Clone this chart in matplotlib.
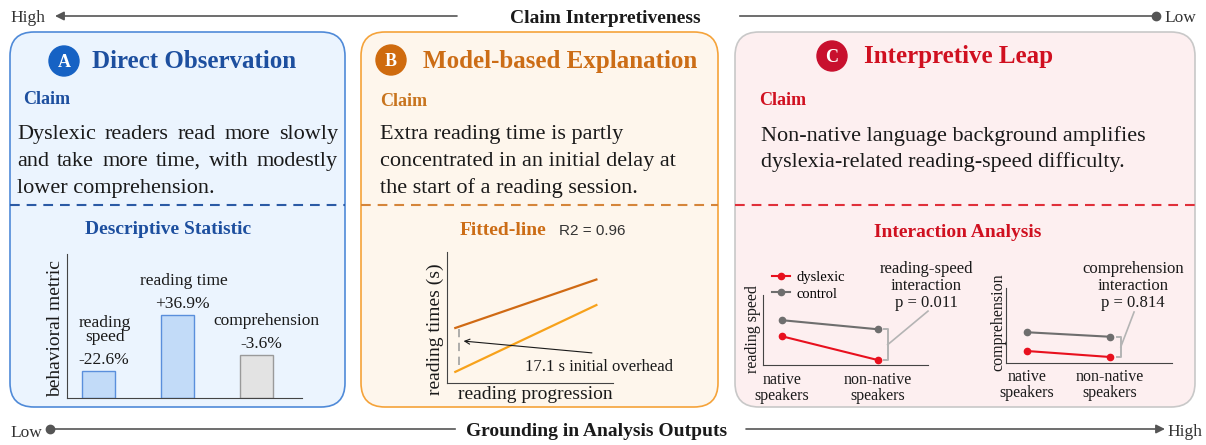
import matplotlib.pyplot as plt
from matplotlib.patches import FancyBboxPatch, Circle
import numpy as np

plt.rcParams['font.family'] = ['Liberation Serif', 'DejaVu Serif']
plt.rcParams['lines.scale_dashes'] = False

W, H = 1206, 445

# ---- data ----
bar_names = [['reading', 'speed'], ['reading time'], ['comprehension']]
bar_changes = ['-22.6%', '+36.9%', '-3.6%']
bar_heights = [27, 83, 43]            # schematic bar heights

fit_x = [0.05, 0.90]                  # reading progression (normalised)
fit_dyslexic = [0.42, 0.79]
fit_control = [0.085, 0.595]
overhead_s = 17.1
r2 = 0.96

groups = ['native\nspeakers', 'non-native\nspeakers']
speed_dyslexic = [0.41, 0.07]
speed_control = [0.64, 0.51]
comp_dyslexic = [0.16, 0.08]
comp_control = [0.41, 0.35]
p_speed = 0.011
p_comp = 0.814

claim_a = ['Dyslexic readers read more slowly',
           'and take more time, with modestly',
           'lower comprehension.']
claim_b = ['Extra reading time is partly',
           'concentrated in an initial delay at',
           'the start of a reading session.']
claim_c = ['Non-native language background amplifies',
           'dyslexia-related reading-speed difficulty.']

INK = '#1a1a1a'
AX = '#444444'
RED = '#e8101e'
GREY = '#6e6e6e'

fig = plt.figure(figsize=(W / 100, H / 100), dpi=100)
bg = fig.add_axes([0, 0, 1, 1])
bg.set_xlim(0, W)
bg.set_ylim(H, 0)
bg.axis('off')
renderer = fig.canvas.get_renderer()


def px_axes(x0, y0, x1, y1):
    ax = fig.add_axes([x0 / W, 1 - y1 / H, (x1 - x0) / W, (y1 - y0) / H])
    ax.set_facecolor('none')
    ax.spines[['top', 'right']].set_visible(False)
    ax.spines[['left', 'bottom']].set_color(AX)
    ax.set_yticks([])
    return ax


def panel(x0, x1, edge, face, dash):
    bg.add_patch(FancyBboxPatch((x0, 32), x1 - x0, 375,
                                boxstyle='round,pad=0,rounding_size=24',
                                fc=face, ec=edge, lw=1.2))
    bg.plot([x0, x1], [205, 205], color=dash, lw=1.5, dashes=(7, 5))


def header(cx, cy, letter, tx, ty, title, color, badge):
    bg.add_patch(Circle((cx, cy), 15, color=badge))
    bg.text(cx, cy + 6, letter, color='white', fontsize=13, fontweight='bold',
            ha='center', va='baseline')
    bg.text(tx, ty, title, color=color, fontsize=18, fontweight='bold', va='baseline')


def justify(x0, x1, y, line, **kw):
    words = line.split()
    ts = [bg.text(0, y, w, va='baseline', **kw) for w in words]
    widths = [t.get_window_extent(renderer).width for t in ts]
    gap = (x1 - x0 - sum(widths)) / (len(words) - 1)
    x = x0
    for t, w in zip(ts, widths):
        t.set_x(x)
        x += w + gap


# ---- top / bottom scales ----
arrow_kw = dict(arrowstyle='-|>', color='#555555', lw=1.2, mutation_scale=13,
                shrinkA=0, shrinkB=0)
bg.text(10, 22, 'High', fontsize=12.5, color='#333333', va='baseline')
bg.annotate('', xy=(55, 16), xytext=(457, 16), arrowprops=arrow_kw)
bg.text(605, 23, 'Claim Interpretiveness', fontsize=14, fontweight='bold',
        color=INK, ha='center', va='baseline')
bg.plot([740, 1156], [16, 16], color='#555555', lw=1.2)
bg.plot(1156, 16, 'o', color='#555555', ms=6)
bg.text(1164, 22, 'Low', fontsize=12.5, color='#333333', va='baseline')

bg.text(10, 437, 'Low', fontsize=12.5, color='#333333', va='baseline')
bg.plot([50, 455], [429, 429], color='#555555', lw=1.2)
bg.plot(50, 429, 'o', color='#555555', ms=6)
bg.text(597, 436, 'Grounding in Analysis Outputs', fontsize=14, fontweight='bold',
        color=INK, ha='center', va='baseline')
bg.annotate('', xy=(1165, 429), xytext=(746, 429), arrowprops=arrow_kw)
bg.text(1167, 436, 'High', fontsize=12.5, color='#333333', va='baseline')

# ---- panel A ----
panel(10, 345, '#4f8ad8', '#ebf4fe', '#2b5aa5')
header(64, 61, 'A', 92, 68, 'Direct Observation', '#1d4f9f', '#1662c4')
bg.text(23, 104, 'Claim', fontsize=13, fontweight='bold', color='#1d4f9f', va='baseline')
for k, line in enumerate(claim_a):
    y = 139 + 27 * k
    if k < len(claim_a) - 1:
        justify(17, 338, y, line, fontsize=16, color=INK)
    else:
        bg.text(17, y, line, fontsize=16, color=INK, va='baseline')
bg.text(168, 234, 'Descriptive Statistic', fontsize=14, fontweight='bold',
        color='#1d4f9f', ha='center', va='baseline')

ax1 = px_axes(67, 254, 302, 398)
xpos = np.arange(len(bar_heights))
ax1.bar(xpos, bar_heights, width=0.42,
        color=['#c2dbf8', '#c2dbf8', '#e3e3e3'],
        edgecolor=['#5a8fdc', '#5a8fdc', '#9a9a9a'], lw=1)
ax1.set_xlim(-0.40, 2.58)
ax1.set_ylim(0, 144)
ax1.set_xticks([])
for i, h in enumerate(bar_heights):
    ax1.text(i + 0.06, h + 7, bar_changes[i], ha='center', va='baseline',
             fontsize=12.5, color=INK)
    for k, line in enumerate(reversed(bar_names[i])):
        ax1.text(i + 0.08 + 0.05 * (i == 2), h + 30 + 14 * k, line, ha='center',
                 va='baseline', fontsize=12.5, color=INK)
ax1.set_ylabel('behavioral metric', fontsize=14, color=INK, ha='center', va='center')
ax1.yaxis.set_label_coords(-0.047, 0.486)

# ---- panel B ----
panel(361, 718, '#f5a33a', '#fef6ec', '#d5853a')
header(391, 60, 'B', 423, 68, 'Model-based Explanation', '#cc6d16', '#cf6b0e')
bg.text(380, 106, 'Claim', fontsize=13, fontweight='bold', color='#c8741e', va='baseline')
for k, line in enumerate(claim_b):
    bg.text(380, 139 + 27 * k, line, fontsize=16, color=INK, va='baseline')
bg.text(460, 235, 'Fitted-line', fontsize=14, fontweight='bold', color='#cc6d16',
        va='baseline')
bg.text(559, 235, f'R2 = {r2}', fontsize=11, family='Liberation Sans', color='#333333',
        va='baseline')

ax2 = px_axes(447, 252, 613, 383)
ax2.plot(fit_x, fit_dyslexic, color='#d06a14', lw=1.6)
ax2.plot(fit_x, fit_control, color='#f7a21b', lw=1.6)
gx = 0.072
ax2.plot([gx, gx], [np.interp(gx, fit_x, fit_control) + 0.04,
                    np.interp(gx, fit_x, fit_dyslexic) - 0.02],
         color='#a0a0a0', lw=1.2, dashes=(6, 4))
ax2.annotate('', xy=(0.10, 0.32), xytext=(0.873, 0.23),
             arrowprops=dict(arrowstyle='->', color=INK, lw=0.8, mutation_scale=9,
                             shrinkA=0, shrinkB=0))
ax2.text(0.47, 0.09, f'{overhead_s} s initial overhead', fontsize=12, color=INK,
         va='baseline')
ax2.set_xlim(0, 1)
ax2.set_ylim(0, 1)
ax2.set_xticks([])
ax2.set_ylabel('reading times (s)', fontsize=14, color=INK, ha='center', va='center')
ax2.yaxis.set_label_coords(-0.072, 0.41)
ax2.set_xlabel('reading progression', fontsize=14, color=INK, ha='center', va='center')
ax2.xaxis.set_label_coords(0.53, -0.084)

# ---- panel C ----
panel(735, 1195, '#c8c8c8', '#fdeff0', '#e0303a')
header(832, 56, 'C', 864, 63, 'Interpretive Leap', '#d01020', '#c8102e')
bg.text(759, 105, 'Claim', fontsize=13, fontweight='bold', color='#d01020', va='baseline')
for k, line in enumerate(claim_c):
    bg.text(761, 141 + 26 * k, line, fontsize=16, color=INK, va='baseline')
bg.text(958, 237, 'Interaction Analysis', fontsize=14, fontweight='bold',
        color='#d01020', ha='center', va='baseline')


def interaction(box, dys, ctl, ylabel, ylab_xy, xlim, bracket_x, link, note, note_x, pad):
    ax = px_axes(*box)
    xs = np.arange(len(groups))
    ax.plot(xs, dys, '-o', color=RED, lw=1.5, ms=4.5, label='dyslexic')
    ax.plot(xs, ctl, '-o', color=GREY, lw=1.5, ms=4.5, label='control')
    bx0, bx1 = bracket_x
    ax.plot([bx0, bx1, bx1, bx0], [ctl[1], ctl[1], dys[1], dys[1]],
            color='#b4b4b4', lw=1.4)
    mid = (ctl[1] + dys[1]) / 2
    ax.plot([bx1, link[0]], [mid, link[1]], color='#b4b4b4', lw=1.2, clip_on=False)
    ax.set_xlim(*xlim)
    ax.set_ylim(0, 1)
    ax.set_xticks(xs, groups, fontsize=11.5, color=INK)
    for t in ax.get_xticklabels():
        t.set_linespacing(1.0)
    ax.tick_params(axis='x', length=0, pad=pad)
    ax.set_ylabel(ylabel, fontsize=11.5, color=INK, ha='center', va='center')
    ax.yaxis.set_label_coords(*ylab_xy)
    for k, line in enumerate(note):
        bg.text(note_x, 273 + 17 * k, line, fontsize=12, color=INK,
                ha='center', va='baseline')
    return ax


ax3 = interaction((763, 295, 928, 365), speed_dyslexic, speed_control, 'reading speed',
                  (-0.06, 0.51), (-0.198, 1.52), (1.06, 1.10), (1.52, 0.77),
                  ['reading-speed', 'interaction', f'p = {p_speed}'], 926, 5)
ax3.legend(loc='upper left', bbox_to_anchor=(0.055, 1.34), frameon=False,
           fontsize=10.5, handlelength=1.2, handletextpad=0.5, labelspacing=0.2,
           borderpad=0, borderaxespad=0)
interaction((1006, 288, 1172, 363), comp_dyslexic, comp_control, 'comprehension',
            (-0.045, 0.55), (-0.253, 1.747), (1.08, 1.13), (1.29, 0.68),
            ['comprehension', 'interaction', f'p = {p_comp}'], 1133, 4.3)

fig.savefig('out.png', dpi=100)
